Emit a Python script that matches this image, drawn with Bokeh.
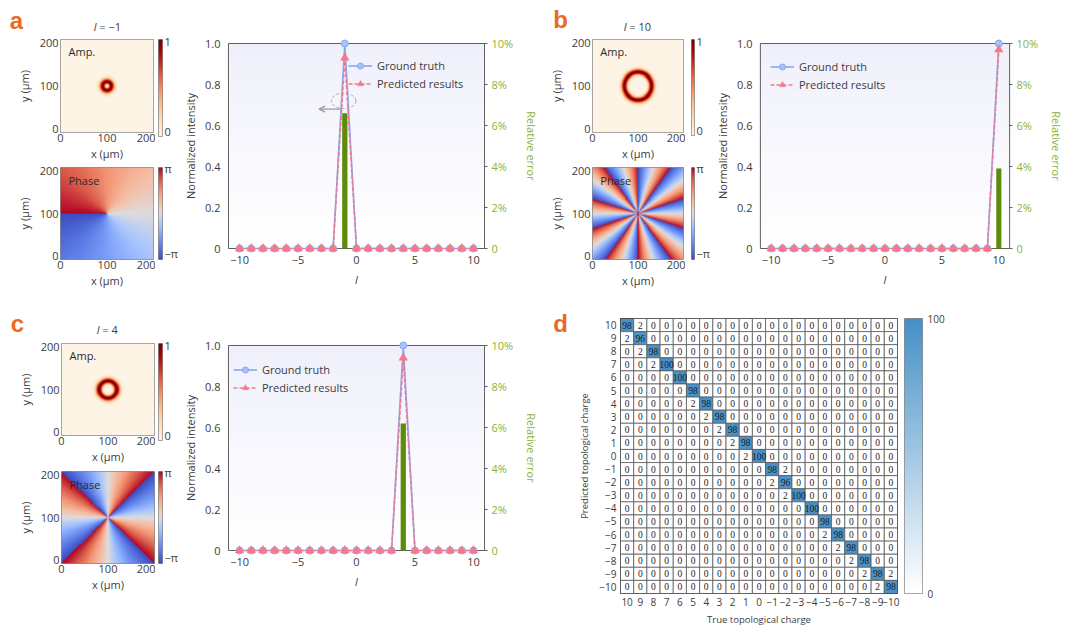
import numpy as np
from bokeh.plotting import figure
from bokeh.layouts import row, column
from bokeh.models import (Range1d, LinearAxis, FixedTicker, Label, Arrow, OpenHead,
                          Legend, LegendItem, ColumnDataSource, LinearColorMapper)
from bokeh.core.properties import value
from bokeh.embed import file_html
from bokeh.resources import INLINE

# ------------------------------------------------------------------ data
l_axis = [-10, -9, -8, -7, -6, -5, -4, -3, -2, -1, 0, 1, 2, 3, 4, 5, 6, 7, 8, 9, 10]

gt_a   = [0, 0, 0, 0, 0, 0, 0, 0, 0, 1.0, 0, 0, 0, 0, 0, 0, 0, 0, 0, 0, 0]
pred_a = [0, 0, 0, 0, 0, 0, 0, 0, 0, 0.93, 0, 0, 0, 0, 0, 0, 0, 0, 0, 0, 0]
err_a  = [0, 0, 0, 0, 0, 0, 0, 0, 0, 6.6, 0, 0, 0, 0, 0, 0, 0, 0, 0, 0, 0]

gt_b   = [0, 0, 0, 0, 0, 0, 0, 0, 0, 0, 0, 0, 0, 0, 0, 0, 0, 0, 0, 0, 1.0]
pred_b = [0, 0, 0, 0, 0, 0, 0, 0, 0, 0, 0, 0, 0, 0, 0, 0, 0, 0, 0, 0, 0.97]
err_b  = [0, 0, 0, 0, 0, 0, 0, 0, 0, 0, 0, 0, 0, 0, 0, 0, 0, 0, 0, 0, 3.9]

gt_c   = [0, 0, 0, 0, 0, 0, 0, 0, 0, 0, 0, 0, 0, 0, 1.0, 0, 0, 0, 0, 0, 0]
pred_c = [0, 0, 0, 0, 0, 0, 0, 0, 0, 0, 0, 0, 0, 0, 0.94, 0, 0, 0, 0, 0, 0]
err_c  = [0, 0, 0, 0, 0, 0, 0, 0, 0, 0, 0, 0, 0, 0, 6.2, 0, 0, 0, 0, 0, 0]

l_ticks = [-10, -5, 0, 5, 10]
l_tick_labels = ["\u221210", "\u22125", "0", "5", "10"]
intensity_ticks = [0, 0.2, 0.4, 0.6, 0.8, 1.0]
intensity_tick_labels = ["0", "0.2", "0.4", "0.6", "0.8", "1.0"]
error_ticks = [0, 2, 4, 6, 8, 10]
error_tick_labels = ["0", "2%", "4%", "6%", "8%", "10%"]
space_ticks = [0, 100, 200]
space_tick_labels = ["0", "100", "200"]
amp_cb_labels = ["0", "1"]
phase_cb_labels = ["\u2212\u03c0", "\u03c0"]
mat_cb_labels = ["0", "100"]

# beam parameters for the amplitude / phase maps
charge_a, charge_b, charge_c = -1, 10, 4
beam_waist_um = 13.5
window_um = 200

# highlight annotation in panel a
highlight_x, highlight_y, highlight_w, highlight_h = -1.1, 0.72, 2.1, 0.075
arrow_y, arrow_x0, arrow_x1 = 0.68, -1.25, -3.2

# confusion matrix: rows = predicted (10 .. -10), columns = true (10 .. -10)
matrix_charges = ["10", "9", "8", "7", "6", "5", "4", "3", "2", "1", "0",
                  "\u22121", "\u22122", "\u22123", "\u22124", "\u22125",
                  "\u22126", "\u22127", "\u22128", "\u22129", "\u221210"]
confusion = [
    [98, 2, 0, 0, 0, 0, 0, 0, 0, 0, 0, 0, 0, 0, 0, 0, 0, 0, 0, 0, 0],
    [2, 96, 0, 0, 0, 0, 0, 0, 0, 0, 0, 0, 0, 0, 0, 0, 0, 0, 0, 0, 0],
    [0, 2, 98, 0, 0, 0, 0, 0, 0, 0, 0, 0, 0, 0, 0, 0, 0, 0, 0, 0, 0],
    [0, 0, 2, 100, 0, 0, 0, 0, 0, 0, 0, 0, 0, 0, 0, 0, 0, 0, 0, 0, 0],
    [0, 0, 0, 0, 100, 0, 0, 0, 0, 0, 0, 0, 0, 0, 0, 0, 0, 0, 0, 0, 0],
    [0, 0, 0, 0, 0, 98, 0, 0, 0, 0, 0, 0, 0, 0, 0, 0, 0, 0, 0, 0, 0],
    [0, 0, 0, 0, 0, 2, 98, 0, 0, 0, 0, 0, 0, 0, 0, 0, 0, 0, 0, 0, 0],
    [0, 0, 0, 0, 0, 0, 2, 98, 0, 0, 0, 0, 0, 0, 0, 0, 0, 0, 0, 0, 0],
    [0, 0, 0, 0, 0, 0, 0, 2, 98, 0, 0, 0, 0, 0, 0, 0, 0, 0, 0, 0, 0],
    [0, 0, 0, 0, 0, 0, 0, 0, 2, 98, 0, 0, 0, 0, 0, 0, 0, 0, 0, 0, 0],
    [0, 0, 0, 0, 0, 0, 0, 0, 0, 2, 100, 0, 0, 0, 0, 0, 0, 0, 0, 0, 0],
    [0, 0, 0, 0, 0, 0, 0, 0, 0, 0, 0, 98, 2, 0, 0, 0, 0, 0, 0, 0, 0],
    [0, 0, 0, 0, 0, 0, 0, 0, 0, 0, 0, 2, 96, 0, 0, 0, 0, 0, 0, 0, 0],
    [0, 0, 0, 0, 0, 0, 0, 0, 0, 0, 0, 0, 2, 100, 0, 0, 0, 0, 0, 0, 0],
    [0, 0, 0, 0, 0, 0, 0, 0, 0, 0, 0, 0, 0, 0, 100, 0, 0, 0, 0, 0, 0],
    [0, 0, 0, 0, 0, 0, 0, 0, 0, 0, 0, 0, 0, 0, 0, 98, 0, 0, 0, 0, 0],
    [0, 0, 0, 0, 0, 0, 0, 0, 0, 0, 0, 0, 0, 0, 0, 2, 98, 0, 0, 0, 0],
    [0, 0, 0, 0, 0, 0, 0, 0, 0, 0, 0, 0, 0, 0, 0, 0, 2, 98, 0, 0, 0],
    [0, 0, 0, 0, 0, 0, 0, 0, 0, 0, 0, 0, 0, 0, 0, 0, 0, 2, 98, 0, 0],
    [0, 0, 0, 0, 0, 0, 0, 0, 0, 0, 0, 0, 0, 0, 0, 0, 0, 0, 2, 98, 2],
    [0, 0, 0, 0, 0, 0, 0, 0, 0, 0, 0, 0, 0, 0, 0, 0, 0, 0, 0, 2, 98],
]

# ------------------------------------------------------------------ style
FONT = "Open Sans"
TXT = "#3c3c3c"
ORANGE = "#ea6a23"
GREEN_TXT = "#8cb23a"
GREEN_BAR = "#5c8c0a"
GT_COLOR = "#86a8f0"
GT_FILL = "#a9c2f7"
PR_COLOR = "#f5788b"
BOX = "#5f5f5f"
FS = "11px"
NBSP = "\u00a0"
Y_LABEL_INSET_UM = 7   # end labels of the map y axes sit slightly inside the frame


def interp_palette(anchors, n=256):
    cols = np.array([[int(h[i:i + 2], 16) for i in (1, 3, 5)] for h in anchors], float)
    pos = np.linspace(0, 1, len(anchors))
    t = np.linspace(0, 1, n)
    ch = [np.interp(t, pos, cols[:, k]) for k in range(3)]
    return ["#%02x%02x%02x" % (int(round(ch[0][i])), int(round(ch[1][i])), int(round(ch[2][i])))
            for i in range(n)]


AMP_PAL = interp_palette(["#fdf4e6", "#fde4c6", "#fdd09d", "#fcb47e", "#f88b57",
                          "#e9603f", "#cd2d1c", "#a80605", "#780000"])
PHASE_PAL = interp_palette(["#3b4cc0", "#5a78e3", "#7b9ff9", "#a9c5fd", "#dddcdc",
                            "#f5bda3", "#f39475", "#d95a48", "#b40426"])
MAT_PAL = interp_palette(["#ffffff", "#4590c6"])

# fields
N = 181
grid = np.linspace(0, window_um, N)
GX, GY = np.meshgrid(grid, grid)
DX, DY = GX - window_um / 2, GY - window_um / 2
R2 = DX ** 2 + DY ** 2
THETA = np.arctan2(DY, DX)


def amplitude(l):
    inten = (R2 / beam_waist_um ** 2) ** abs(l) * np.exp(-2 * R2 / beam_waist_um ** 2)
    return (inten / inten.max()).astype(np.float32)


def phase(l):
    return np.angle(np.exp(-1j * l * THETA)).astype(np.float32)


def base_fig(x0, y0, W, H, frame, x_range, y_range, axes=True):
    fx0, fy0, fx1, fy1 = frame
    kw = {}
    if not axes:
        kw = dict(x_axis_location=None, y_axis_location=None)
    p = figure(width=W, height=H, x_range=x_range, y_range=y_range,
               output_backend="svg", toolbar_location=None,
               min_border_left=fx0 - x0, min_border_right=x0 + W - fx1,
               min_border_top=fy0 - y0, min_border_bottom=y0 + H - fy1, **kw)
    p.grid.visible = False
    p.outline_line_color = None
    p.background_fill_color = "white"
    p.border_fill_color = "white"
    return p


def style_axis(ax, size=FS):
    ax.axis_line_color = None
    ax.major_tick_line_color = None
    ax.minor_tick_line_color = None
    ax.major_tick_out = 0
    ax.major_tick_in = 0
    ax.major_label_text_font = FONT
    ax.major_label_text_font_size = size
    ax.major_label_text_color = TXT
    ax.axis_label_text_font = FONT
    ax.axis_label_text_font_size = size
    ax.axis_label_text_color = TXT
    ax.axis_label_text_font_style = "normal"


def text_strip(x0, y0, W, H, texts):
    # a blank panel (page pixel units) that only carries texts inside its frame
    frame = (x0, y0, x0 + W, y0 + H)
    p = base_fig(x0, y0, W, H, frame, Range1d(frame[0], frame[2]),
                 Range1d(frame[3], frame[1]), axes=False)
    for (tx, ty, txt, size, align, style, color, font) in texts:
        p.add_layout(Label(x=tx, y=ty, text=txt, text_font=font, text_font_size=size,
                           text_align=align, text_baseline="middle", text_color=color,
                           text_font_style=style))
    return p


def header(x0, y0, W, H, letter, letter_xy, title_rest, title_split, title_y):
    return text_strip(x0, y0, W, H, [
        (letter_xy[0], letter_xy[1], letter, "24px", "center", "bold", ORANGE, "Liberation Sans"),
        (title_split, title_y, "l", FS, "right", "italic", TXT, FONT),
        (title_split, title_y, title_rest, FS, "left", "normal", TXT, FONT),
    ])


def image_fig(x0, y0, W, H, img, field, palette, lo, hi, tag):
    p = base_fig(x0, y0, W, H, img, Range1d(0, window_um), Range1d(0, window_um))
    p.outline_line_color = "#8a8a8a"
    xa, ya = p.xaxis[0], p.yaxis[0]
    for ax in (xa, ya):
        style_axis(ax)
    xa.ticker = FixedTicker(ticks=space_ticks)
    xa.major_label_overrides = dict(zip(space_ticks, space_tick_labels))
    y_pos = [space_ticks[0] + Y_LABEL_INSET_UM, space_ticks[1], space_ticks[2] - Y_LABEL_INSET_UM]
    ya.ticker = FixedTicker(ticks=y_pos)
    ya.major_label_overrides = dict(zip(y_pos, space_tick_labels))
    xa.major_label_standoff = 1
    xa.axis_label = "x (\u03bcm)"
    xa.axis_label_standoff = 1
    ya.major_label_standoff = 2
    ya.axis_label = "y (\u03bcm)"
    ya.axis_label_standoff = 5
    mapper = LinearColorMapper(palette=palette, low=lo, high=hi)
    p.image(image=[field], x=0, y=0, dw=window_um, dh=window_um, color_mapper=mapper)
    p.add_layout(Label(x=8 * window_um / (img[2] - img[0]),
                       y=window_um - 5 * window_um / (img[3] - img[1]),
                       text=tag, text_font=FONT, text_font_size=FS, text_align="left",
                       text_baseline="top", text_color="#2a2a2a"))
    return p


def cbar_fig(x0, y0, W, H, bar, palette, lo, hi, labels, size=FS, standoff=2,
             inset=(5, 2)):
    p = base_fig(x0, y0, W, H, bar, Range1d(0, 1), Range1d(lo, hi), axes=False)
    p.outline_line_color = "#8a8a8a"
    mapper = LinearColorMapper(palette=palette, low=lo, high=hi)
    grad = np.linspace(lo, hi, 128, dtype=np.float32).reshape(128, 1)
    p.image(image=[grad], x=0, y=lo, dw=1, dh=hi - lo, color_mapper=mapper)
    per_px = (hi - lo) / (bar[3] - bar[1])
    ticks = [lo + inset[0] * per_px, hi - inset[1] * per_px]
    ax = LinearAxis(ticker=FixedTicker(ticks=ticks),
                    major_label_overrides=dict(zip(ticks, labels)))
    style_axis(ax, size)
    ax.major_label_standoff = standoff
    p.add_layout(ax, "right")
    return p


L_LO, L_HI = -10.95, 10.95
PADX, PADY = 3, 5

GRAD_ROWS = 64
_g = np.linspace(0, 1, GRAD_ROWS)[:, None]
_top = np.array([240, 240, 251], float)
_bot = np.array([255, 255, 255], float)
_rgb = _bot + (_top - _bot) * _g
_img = np.zeros((GRAD_ROWS, 1, 4), dtype=np.uint8)
_img[:, 0, :3] = np.round(_rgb).astype(np.uint8)
_img[:, 0, 3] = 255
BG_GRAD = _img.view(np.uint32).reshape(GRAD_ROWS, 1)


def chart_fig(x0, y0, W, H, box, gt, pred, err, legend_xy, annotate=False):
    bx0, by0, bx1, by1 = box
    frame = (bx0 - PADX, by0 - PADY, bx1 + PADX, by1 + PADY)
    ux = (L_HI - L_LO) / (bx1 - bx0)
    uy = 1.0 / (by1 - by0)
    err_max = error_ticks[-1]
    p = base_fig(x0, y0, W, H, frame,
                 Range1d(L_LO - PADX * ux, L_HI + PADX * ux),
                 Range1d(-PADY * uy, 1 + PADY * uy))
    p.extra_y_ranges = {"err": Range1d(-PADY * uy * err_max, err_max * (1 + PADY * uy))}

    xa = p.xaxis[0]
    ya = p.yaxis[0]
    ra = LinearAxis(y_range_name="err")
    p.add_layout(ra, "right")
    for ax in (xa, ya, ra):
        style_axis(ax)

    xa.ticker = FixedTicker(ticks=l_ticks)
    xa.major_label_overrides = dict(zip(l_ticks, l_tick_labels))
    xa.axis_label = "l"
    xa.axis_label_text_font_style = "italic"
    xa.axis_label_standoff = 5
    xa.major_label_standoff = 2

    ya.ticker = FixedTicker(ticks=intensity_ticks)
    ya.major_label_overrides = dict(zip(intensity_ticks, intensity_tick_labels))
    ya.axis_label = "Normalized intensity"
    ya.axis_label_standoff = 4
    ya.major_label_standoff = 5

    ra.ticker = FixedTicker(ticks=error_ticks)
    ra.major_label_overrides = dict(zip(error_ticks, error_tick_labels))
    ra.axis_label = "Relative error"
    ra.major_tick_in = 3
    ra.major_tick_line_color = BOX
    ra.major_label_standoff = 4
    ra.axis_label_standoff = 8
    ra.major_label_text_color = GREEN_TXT
    ra.axis_label_text_color = GREEN_TXT

    p.image_rgba(image=[BG_GRAD], x=L_LO, y=0, dw=L_HI - L_LO, dh=1)
    p.quad(left=L_LO, right=L_HI, bottom=0, top=1, fill_color=None,
           line_color=BOX, line_width=1)
    p.vbar(x=l_axis, top=err, bottom=0, width=0.45, y_range_name="err",
           fill_color=GREEN_BAR, line_color=None)
    gl = p.line(l_axis, gt, line_color=GT_COLOR, line_width=1.6)
    gs = p.scatter(l_axis, gt, marker="circle", size=7, fill_color=GT_FILL,
                   line_color=GT_COLOR, line_width=1)
    pl = p.line(l_axis, pred, line_color=PR_COLOR, line_width=1.6, line_dash="4 2")
    ps = p.scatter(l_axis, pred, marker="triangle", size=8.5, fill_color=PR_COLOR,
                   line_color=PR_COLOR, line_width=0.5)

    if annotate:
        p.ellipse(x=[highlight_x], y=[highlight_y], width=highlight_w, height=highlight_h,
                  fill_color=None, line_color="#a8a8a8", line_width=1, line_dash="3 2")
        p.add_layout(Arrow(end=OpenHead(size=6, line_color="#9a9a9a", line_width=1.2),
                           x_start=arrow_x0, y_start=arrow_y, x_end=arrow_x1, y_end=arrow_y,
                           line_color="#9a9a9a", line_width=1.2))

    # legend placed by its top-left corner (page px) -> bottom-left offset in frame px
    pad, row_h, gap = 9, 15, 3
    leg_h = 2 * pad + 2 * row_h + gap
    lx, ly = legend_xy
    legend = Legend(items=[LegendItem(label="Ground truth", renderers=[gl, gs]),
                           LegendItem(label="Predicted results", renderers=[pl, ps])],
                    location=(lx - frame[0], frame[3] - (ly + leg_h)), margin=0, padding=pad,
                    label_text_font=FONT, label_text_font_size=FS,
                    label_text_color=TXT, glyph_width=24, glyph_height=row_h,
                    label_height=row_h, spacing=gap, label_standoff=5,
                    border_line_color=None, background_fill_color="white",
                    background_fill_alpha=0.0)
    p.add_layout(legend)
    return p


def matrix_fig(x0, y0, W, H, box):
    n = len(matrix_charges)
    p = base_fig(x0, y0, W, H, box, Range1d(-0.5, n - 0.5), Range1d(-0.5, n - 0.5))
    p.outline_line_color = "#333333"
    xs, ys, vs, ts = [], [], [], []
    for i, rowvals in enumerate(confusion):
        for j, v in enumerate(rowvals):
            xs.append(j)
            ys.append(n - 1 - i)
            vs.append(v)
            ts.append(str(v))
    src = ColumnDataSource(dict(x=xs, y=ys, v=vs, t=ts))
    mapper = LinearColorMapper(palette=MAT_PAL, low=0, high=100)
    p.rect(x="x", y="y", width=1, height=1, source=src,
           fill_color={"field": "v", "transform": mapper},
           line_color="#5a5a5a", line_width=0.8)
    p.text(x="x", y="y", text="t", source=src, text_font=value("Liberation Serif"),
           text_font_size="9.5px", text_align="center", text_baseline="middle",
           text_color="#1c1c1c")

    xa, ya = p.xaxis[0], p.yaxis[0]
    for ax in (xa, ya):
        style_axis(ax, "10px")
        ax.major_label_standoff = 4
    xa.ticker = FixedTicker(ticks=list(range(n)))
    xa.major_label_overrides = {j: matrix_charges[j] for j in range(n)}
    xa.axis_label = "True topological charge"
    xa.axis_label_standoff = 4
    ya.ticker = FixedTicker(ticks=list(range(n)))
    ya.major_label_overrides = {k: matrix_charges[n - 1 - k] for k in range(n)}
    ya.axis_label = "Predicted topological charge"
    ya.axis_label_standoff = 5
    for ax in (xa, ya):
        ax.axis_label_text_font_size = "9.5px"
    return p


# ------------------------------------------------------------------ panels
# column a (page x 0..180, y 0..300)
hdr_a = header(0, 0, 155, 34, "a", (16, 20), NBSP + "= \u22121", 96, 26)
amp_a = image_fig(0, 34, 155, 129, (60, 39, 153, 136), amplitude(charge_a),
                  AMP_PAL, 0, 1, "Amp.")
phase_a = image_fig(0, 163, 155, 137, (60, 167, 153, 259), phase(charge_a),
                    PHASE_PAL, -np.pi, np.pi, "Phase")
cb_amp_a = cbar_fig(155, 0, 25, 158, (158, 39, 163, 136), AMP_PAL, 0, 1, amp_cb_labels)
cb_phase_a = cbar_fig(155, 158, 25, 142, (158, 167, 163, 259), PHASE_PAL, -np.pi, np.pi,
                      phase_cb_labels, inset=(6, 1))

# column b (page x 545..712, y 0..300)
hdr_b = header(545, 0, 140, 34, "b", (560, 19), NBSP + "= 10", 626, 26)
amp_b = image_fig(545, 34, 140, 129, (590, 39, 683, 135), amplitude(charge_b),
                  AMP_PAL, 0, 1, "Amp.")
phase_b = image_fig(545, 163, 140, 137, (590, 167, 683, 259), phase(charge_b),
                    PHASE_PAL, -np.pi, np.pi, "Phase")
cb_amp_b = cbar_fig(685, 0, 27, 158, (691, 39, 696, 135), AMP_PAL, 0, 1, amp_cb_labels)
cb_phase_b = cbar_fig(685, 158, 27, 142, (691, 167, 696, 259), PHASE_PAL, -np.pi, np.pi,
                      phase_cb_labels, inset=(6, 1))

# column c (page x 0..180, y 300..628)
hdr_c = header(0, 300, 155, 36, "c", (17, 323), NBSP + "= 4", 99, 329)
amp_c = image_fig(0, 336, 155, 130, (61, 343, 154, 440), amplitude(charge_c),
                  AMP_PAL, 0, 1, "Amp.")
phase_c = image_fig(0, 466, 155, 162, (61, 471, 154, 563), phase(charge_c),
                    PHASE_PAL, -np.pi, np.pi, "Phase")
cb_amp_c = cbar_fig(155, 300, 25, 162, (158, 343, 163, 440), AMP_PAL, 0, 1, amp_cb_labels)
cb_phase_c = cbar_fig(155, 462, 25, 166, (158, 471, 163, 563), PHASE_PAL, -np.pi, np.pi,
                      phase_cb_labels, inset=(6, 1))

chart_a = chart_fig(180, 0, 365, 300, (224, 43, 484, 248), gt_a, pred_a, err_a,
                    (344, 40), annotate=True)
chart_b = chart_fig(712, 0, 355, 300, (757, 43, 1017, 248), gt_b, pred_b, err_b,
                    (767, 41))
chart_c = chart_fig(180, 300, 365, 328, (224, 345, 484, 550), gt_c, pred_c, err_c,
                    (229, 344))

MAT_BOX = (617, 318, 897, 597)
strip_d = text_strip(545, 300, 30, 328,
                     [(560, 323, "d", "24px", "center", "bold", ORANGE, "Liberation Sans")])
mat = matrix_fig(575, 300, 325, 328, MAT_BOX)
cb_mat = cbar_fig(900, 300, 167, 328, (904, MAT_BOX[1], 922, MAT_BOX[3]), MAT_PAL, 0, 100,
                  mat_cb_labels, size="10px", standoff=5, inset=(0, 0))


def image_column(hdr, amp, ph, cb_amp, cb_ph):
    return row(column(row(hdr), amp, ph), column(cb_amp, cb_ph))


col_a = image_column(hdr_a, amp_a, phase_a, cb_amp_a, cb_phase_a)
col_b = image_column(hdr_b, amp_b, phase_b, cb_amp_b, cb_phase_b)
col_c = image_column(hdr_c, amp_c, phase_c, cb_amp_c, cb_phase_c)
top = row(col_a, column(chart_a), col_b, column(chart_b))
bottom = row(col_c, column(chart_c), column(strip_d), column(row(mat, cb_mat)))
layout = column(top, bottom)

open("out.html", "w").write(file_html(layout, INLINE))
